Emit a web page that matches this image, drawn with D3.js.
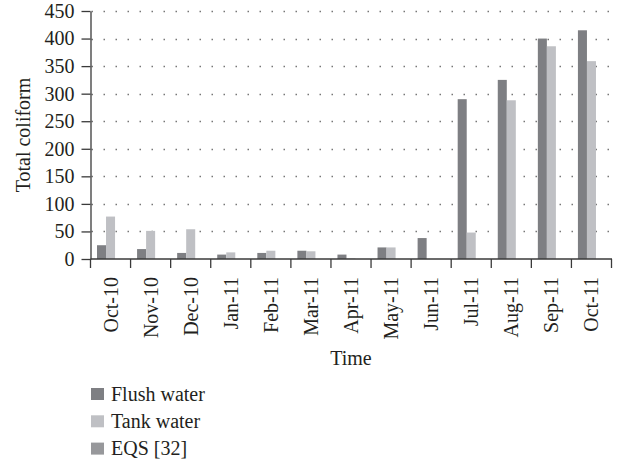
<!DOCTYPE html>
<html>
<head>
<meta charset="utf-8">
<script src="https://cdn.jsdelivr.net/npm/d3@7"></script>
<style>
  html, body { margin: 0; padding: 0; background: #fff; }
  svg { display: block; }
</style>
</head>
<body>
<svg id="chart" width="618" height="461" font-family="Liberation Serif, DejaVu Serif, serif"></svg>
<script>
// Monthly total coliform counts
const months = ["Oct-10", "Nov-10", "Dec-10", "Jan-11", "Feb-11", "Mar-11", "Apr-11",
                "May-11", "Jun-11", "Jul-11", "Aug-11", "Sep-11", "Oct-11"];
const flushWater = [25, 18, 11, 8, 11, 15, 8, 21, 38, 290, 325, 400, 415];
const tankWater  = [77, 51, 54, 12, 15, 14, 1, 21, 0, 48, 288, 386, 359];
const seriesNames = ["Flush water", "Tank water", "EQS [32]"];
const seriesColors = ["#7e7f83", "#bfc0c4", "#97989b"];
const yTicks = [0, 50, 100, 150, 200, 250, 300, 350, 400, 450];

const FONT = "Liberation Serif";
const INK = "#231f20";
const AXIS = "#3a3a3a";

const svg = d3.select("#chart");
const plotLeft = 90.5, plotRight = 611.5, plotTop = 11, plotBottom = 259;

const x = d3.scaleBand().domain(months).range([plotLeft, plotRight]).padding(0);
const xSub = d3.scaleBand().domain(seriesNames).range([0, x.bandwidth()])
  .paddingInner(0).paddingOuter(0.72);
const y = d3.scaleLinear().domain([0, 450]).range([plotBottom, plotTop]);

// dotted horizontal gridlines
svg.append("g")
  .selectAll("line")
  .data(yTicks.filter(d => d > 0))
  .join("line")
  .attr("x1", plotLeft).attr("x2", plotRight + 1)
  .attr("y1", d => Math.round(y(d)) + 0.5).attr("y2", d => Math.round(y(d)) + 0.5)
  .attr("stroke", "#777")
  .attr("stroke-width", 1.3)
  .attr("stroke-dasharray", "1.5 10.5")
  .attr("stroke-dashoffset", -1);

// bars
const series = [
  { name: seriesNames[0], values: flushWater, color: seriesColors[0] },
  { name: seriesNames[1], values: tankWater, color: seriesColors[1] }
];
svg.append("g")
  .selectAll("g")
  .data(series)
  .join("g")
  .attr("fill", d => d.color)
  .selectAll("rect")
  .data(s => s.values.map((v, i) => ({ name: s.name, month: months[i], value: v })))
  .join("rect")
  .attr("x", d => x(d.month) + xSub(d.name))
  .attr("width", xSub.bandwidth())
  .attr("y", d => y(d.value))
  .attr("height", d => y(0) - y(d.value));

// y axis
const yAxis = svg.append("g")
  .attr("transform", `translate(${plotLeft},0)`)
  .call(d3.axisLeft(y).tickValues(yTicks).tickSize(9).tickPadding(7).tickSizeOuter(0))
  .attr("font-family", FONT).attr("font-size", 20);
yAxis.select(".domain").attr("stroke", AXIS).attr("stroke-width", 1.3);
yAxis.selectAll(".tick line").attr("stroke", AXIS).attr("stroke-width", 1.3);
yAxis.selectAll(".tick text").attr("font-family", FONT).attr("font-size", 20).attr("fill", INK);

// x axis with category boundary ticks
const xAxisG = svg.append("g").attr("transform", `translate(0,${plotBottom})`);
xAxisG.append("line")
  .attr("x1", plotLeft).attr("x2", plotRight + 0.5)
  .attr("stroke", AXIS).attr("stroke-width", 1.3);
const boundaries = months.map(m => x(m)).concat([plotRight]);
xAxisG.selectAll("line.bound")
  .data(boundaries)
  .join("line")
  .attr("class", "bound")
  .attr("x1", d => d).attr("x2", d => d)
  .attr("y1", 0).attr("y2", 9)
  .attr("stroke", AXIS).attr("stroke-width", 1.3);
xAxisG.selectAll("text")
  .data(months)
  .join("text")
  .attr("transform", d => `translate(${x(d) + x.bandwidth() / 2 + 7},18) rotate(-90)`)
  .attr("text-anchor", "end")
  .attr("font-family", FONT).attr("font-size", 20).attr("fill", INK)
  .text(d => d);

// axis titles
svg.append("text")
  .attr("x", (plotLeft + plotRight) / 2).attr("y", 365)
  .attr("text-anchor", "middle")
  .attr("font-family", FONT).attr("font-size", 20).attr("fill", INK)
  .text("Time");
svg.append("text")
  .attr("transform", `translate(30,${(plotTop + plotBottom) / 2}) rotate(-90)`)
  .attr("text-anchor", "middle")
  .attr("font-family", FONT).attr("font-size", 20).attr("fill", INK)
  .text("Total coliform");

// legend
const legend = svg.append("g").attr("transform", "translate(91,388)");
const item = legend.selectAll("g")
  .data(seriesNames)
  .join("g")
  .attr("transform", (d, i) => `translate(0,${i * 27.3})`);
item.append("rect").attr("width", 13).attr("height", 12)
  .attr("fill", (d, i) => seriesColors[i]);
item.append("text").attr("x", 20).attr("y", 12.5)
  .attr("font-family", FONT).attr("font-size", 20).attr("fill", INK)
  .text(d => d);
</script>
</body>
</html>
